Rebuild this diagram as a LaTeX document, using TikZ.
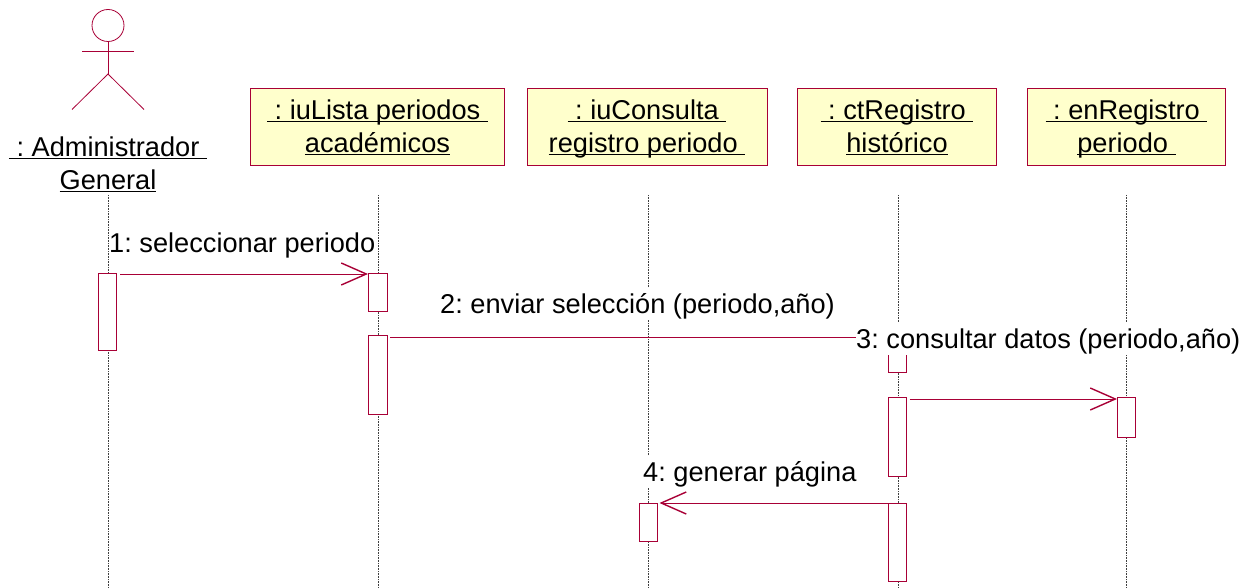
\documentclass[tikz,border=0pt]{standalone}
\usepackage{fontspec}
\setmainfont{Liberation Sans}
\usetikzlibrary{arrows.meta}
\definecolor{umlline}{HTML}{A80036}
\definecolor{umlfill}{HTML}{FFFFCC}
\frenchspacing
\newsavebox\ulbox
\newcommand\ulx[1]{\leavevmode\sbox\ulbox{#1}\vphantom{Ág}\rlap{\rule[-3pt]{\wd\ulbox}{1.7pt}}\usebox\ulbox}
\tikzset{
  objbox/.style={draw=umlline,fill=umlfill,line width=1pt,inner sep=0pt,align=center,font=\fontsize{27.2}{33}\selectfont,anchor=north west},
  actlabel/.style={inner sep=0pt,align=center,font=\fontsize{27.2}{33}\selectfont},
  lifeline/.style={draw=black!75,line width=0.7pt,dash pattern=on 1pt off 0.6pt},
  activation/.style={draw=umlline,fill=white,line width=1pt,inner sep=0pt,minimum width=18pt,anchor=north west},
  msg/.style={draw=umlline,line width=1pt},
  msgopen/.style={msg,-{Straight Barb[length=25pt,width=22pt,line width=1.4pt]}},
  msglabel/.style={inner sep=0pt,font=\fontsize{27.2}{33}\selectfont,anchor=base west,text height=25pt,text depth=7pt},
  actorline/.style={draw=umlline,line width=0.8pt}
}
\begin{document}
\begin{tikzpicture}[x=1pt,y=-1pt]
\useasboundingbox (0,0) rectangle (1252,588);
% actor
\node[actorline,circle,minimum size=32pt,inner sep=0pt] (head) at (108,25.5) {};
\coordinate (hip) at (108,74);
\coordinate (armL) at (82,51.5);
\coordinate (armR) at (134,51.5);
\coordinate (legL) at (72,109.5);
\coordinate (legR) at (144,109.5);
\draw[actorline] (head.south) -- (hip);
\draw[actorline] (armL) -- (armR);
\draw[actorline] (legL) -- (hip) -- (legR);
\node[actlabel] (actor) at (108,164) {\ulx{\ : Administrador\ }\\\ulx{General}};
% object boxes
\node[objbox,minimum width=254pt,minimum height=77pt] (o1) at (250,88) {\ulx{\ : iuLista periodos\ }\\\ulx{académicos}};
\node[objbox,minimum width=240pt,minimum height=77pt] (o2) at (526.5,88) {\ulx{\ : iuConsulta\ }\\\ulx{registro periodo\ }};
\node[objbox,minimum width=199pt,minimum height=77pt] (o3) at (797,88) {\ulx{\ : ctRegistro\ }\\\ulx{histórico}};
\node[objbox,minimum width=198pt,minimum height=77pt] (o4) at (1027,88) {\ulx{\ : enRegistro\ }\\\ulx{periodo\ }};
% lifelines
\coordinate (t0) at (108,195); \coordinate (b0) at (108,588);
\coordinate (t1) at (378,195); \coordinate (b1) at (378,588);
\coordinate (t2) at (648,195); \coordinate (b2) at (648,588);
\coordinate (t3) at (898,195); \coordinate (b3) at (898,588);
\coordinate (t4) at (1126,195); \coordinate (b4) at (1126,588);
\draw[lifeline] (t0) -- (b0);
\draw[lifeline] (t1) -- (b1);
\draw[lifeline] (t2) -- (b2);
\draw[lifeline] (t3) -- (b3);
\draw[lifeline] (t4) -- (b4);
% activations
\node[activation,minimum height=77pt] (a0) at (98,273) {};
\node[activation,minimum width=19pt,minimum height=38pt] (a1) at (368,273) {};
\node[activation,minimum width=19pt,minimum height=79pt] (a2) at (368,335) {};
\node[activation,minimum height=37pt] (c1) at (887.5,335) {};
\node[activation,minimum height=79pt] (c2) at (887.5,397) {};
\node[activation,minimum height=78pt] (c3) at (887.5,503) {};
\node[activation,minimum height=40pt] (e1) at (1117,397) {};
\node[activation,minimum height=38pt] (i1) at (638.5,503) {};
% messages
\draw[msgopen] ([xshift=3pt,yshift=-1pt]a0.north east) -- ([yshift=-1pt]a1.north west);
\draw[msg] ([xshift=2pt,yshift=-2pt]a2.north east) -- ([yshift=-2pt]c1.north west);
\draw[msgopen] ([xshift=3pt,yshift=-2pt]c2.north east) -- ([yshift=-2pt]e1.north west);
\draw[msgopen] (c3.north west) -- ([xshift=2pt]i1.north east);
% labels
\node[msglabel] (m1) at (109,252) {1: seleccionar periodo};
\node[msglabel,fill=white] (m2) at (440,313) {2: enviar selección (periodo,año)};
\node[msglabel,fill=white] (m3) at (856,348) {3: consultar datos (periodo,año)};
\node[msglabel,fill=white] (m4) at (643,481) {4: generar página};
\end{tikzpicture}
\end{document}
